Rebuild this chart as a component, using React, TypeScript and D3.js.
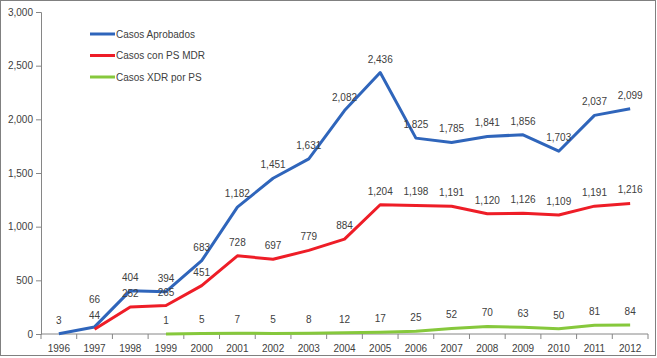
import * as d3 from 'd3';
import {useEffect, useRef} from "react";
import * as React from "react";

const years = ["1996", "1997", "1998", "1999", "2000", "2001", "2002", "2003", "2004",
    "2005", "2006", "2007", "2008", "2009", "2010", "2011", "2012"];

// null = no value for that year
const aprobados = [3, 66, 404, 394, 683, 1182, 1451, 1631, 2082, 2436, 1825, 1785, 1841, 1856, 1703, 2037, 2099];
const conMdr = [null, 44, 252, 265, 451, 728, 697, 779, 884, 1204, 1198, 1191, 1120, 1126, 1109, 1191, 1216];
const xdr = [null, null, null, 1, 5, 7, 5, 8, 12, 17, 25, 52, 70, 63, 50, 81, 84];

const yTicks = [0, 500, 1000, 1500, 2000, 2500, 3000];

const seriesNames = ["Casos Aprobados", "Casos con PS MDR", "Casos XDR por PS"];
const seriesColors = ["#2f65bb", "#ee1d27", "#86c83c"];

const W = 657;
const H = 358;

const App: React.FC = () => {
    const svgRef = useRef<SVGSVGElement | null>(null);

    useEffect(() => {
        if (!svgRef.current) return;
        const svg = d3.select(svgRef.current);
        svg.selectAll("*").remove();

        const margin = { top: 12, right: 9, bottom: 24, left: 41 };
        const font = "'Liberation Sans', Arial, sans-serif";

        // outer frame
        svg.append("rect")
            .attr("x", 0.5).attr("y", 0.5)
            .attr("width", W - 2).attr("height", H - 3)
            .attr("fill", "white")
            .attr("stroke", "#808080");

        const x = d3.scaleBand<string>()
            .domain(years)
            .range([margin.left, W - margin.right]);

        const y = d3.scaleLinear()
            .domain([0, 3000])
            .range([H - margin.bottom, margin.top]);

        const cx = (yr: string) => (x(yr) ?? 0) + x.bandwidth() / 2;

        // y axis
        svg.append("g")
            .attr("transform", `translate(${margin.left},0)`)
            .call(d3.axisLeft(y).tickValues(yTicks).tickSize(5).tickPadding(3).tickFormat(d3.format(",")))
            .call(g => g.selectAll("line, path").attr("stroke", "#868686"))
            .call(g => g.selectAll("text")
                .attr("fill", "#404040")
                .style("font-family", font)
                .style("font-size", "10px"));

        // x axis, ticks between categories
        const xg = svg.append("g")
            .attr("transform", `translate(0,${y(0)})`);
        xg.append("line")
            .attr("x1", margin.left).attr("x2", W - margin.right)
            .attr("stroke", "#868686");
        xg.selectAll(".tk")
            .data(d3.range(years.length + 1))
            .enter().append("line")
            .attr("x1", i => margin.left + i * x.step())
            .attr("x2", i => margin.left + i * x.step())
            .attr("y2", 5)
            .attr("stroke", "#868686");
        xg.selectAll("text")
            .data(years)
            .enter().append("text")
            .attr("x", d => cx(d))
            .attr("y", 18)
            .attr("text-anchor", "middle")
            .attr("fill", "#404040")
            .style("font-family", font)
            .style("font-size", "10px")
            .text(d => d);

        const allSeries = [aprobados, conMdr, xdr];
        // label tweak for crowded points: [series, index, dy]
        const labelShift: [number, number, number][] = [[0, 1, -14]];

        allSeries.forEach((vals, si) => {
            const pts = years.map((yr, i) => ({ yr, v: vals[i] }))
                .filter(p => p.v !== null) as { yr: string; v: number }[];

            const line = d3.line<{ yr: string; v: number }>()
                .x(d => cx(d.yr))
                .y(d => y(d.v));

            svg.append("path")
                .datum(pts)
                .attr("fill", "none")
                .attr("stroke", seriesColors[si])
                .attr("stroke-width", 3)
                .attr("stroke-linejoin", "round")
                .attr("d", line);
        });

        allSeries.forEach((vals, si) => {
            const pts = years.map((yr, i) => ({ yr, v: vals[i], i }))
                .filter(p => p.v !== null) as { yr: string; v: number; i: number }[];
            svg.append("g").selectAll("text")
                .data(pts)
                .enter().append("text")
                .attr("x", d => cx(d.yr))
                .attr("y", d => {
                    const s = labelShift.find(l => l[0] === si && l[1] === d.i);
                    return y(d.v) - 10 + (s ? s[2] : 0);
                })
                .attr("text-anchor", "middle")
                .attr("fill", "#404040")
                .style("font-family", font)
                .style("font-size", "10px")
                .text(d => d3.format(",")(d.v));
        });

        // legend
        const lg = svg.append("g");
        seriesNames.forEach((name, i) => {
            const ly = 34 + i * 21.5;
            lg.append("line")
                .attr("x1", 90).attr("x2", 115)
                .attr("y1", ly).attr("y2", ly)
                .attr("stroke", seriesColors[i])
                .attr("stroke-width", 3);
            lg.append("text")
                .attr("x", 116).attr("y", ly + 3.5)
                .attr("fill", "#404040")
                .style("font-family", font)
                .style("font-size", "10px")
                .text(name);
        });
    }, []);

    return (
        <div style={{ position: "absolute", left: 0, top: 0 }}>
            <svg ref={svgRef} width={W} height={H} style={{ display: "block" }}></svg>
        </div>
    );
};

export default App;
